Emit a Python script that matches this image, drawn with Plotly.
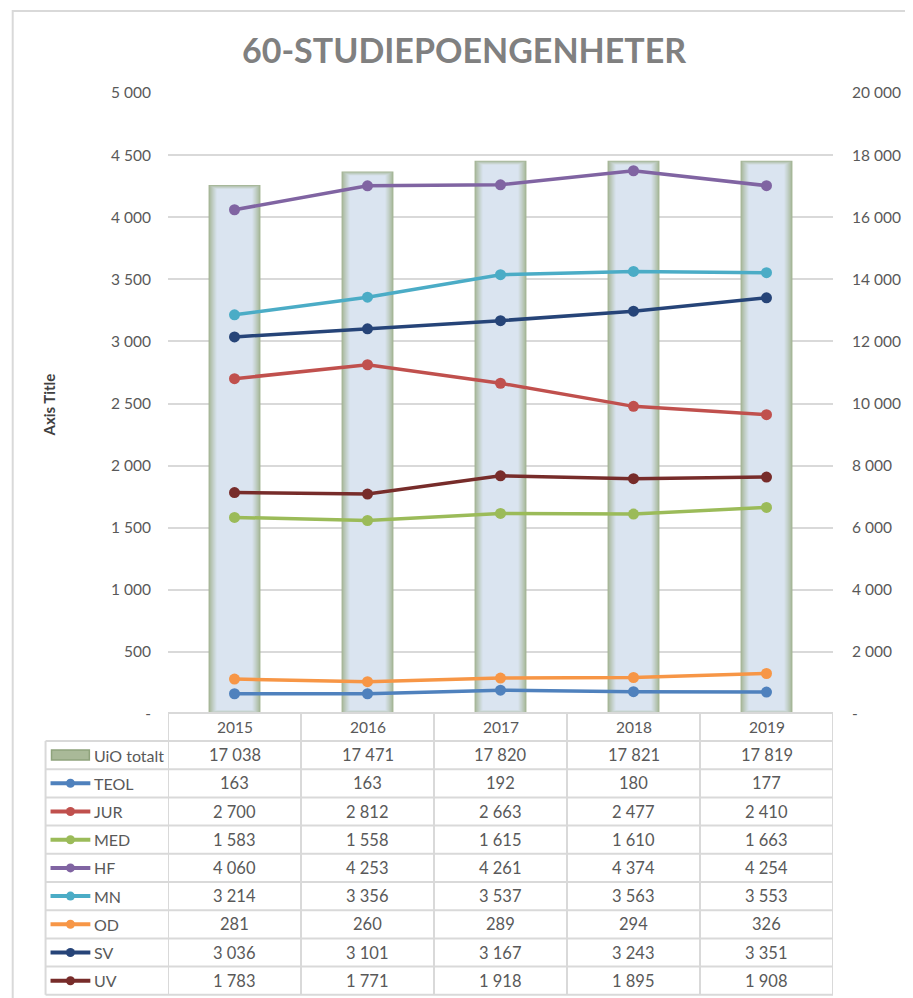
import plotly.graph_objects as go

# data
years = ["2015", "2016", "2017", "2018", "2019"]
uio_totalt = [17038, 17471, 17820, 17821, 17819]
teol = [163, 163, 192, 180, 177]
jur = [2700, 2812, 2663, 2477, 2410]
med = [1583, 1558, 1615, 1610, 1663]
hf = [4060, 4253, 4261, 4374, 4254]
mn = [3214, 3356, 3537, 3563, 3553]
od = [281, 260, 289, 294, 326]
sv = [3036, 3101, 3167, 3243, 3351]
uv = [1783, 1771, 1918, 1895, 1908]

left_ticks = [0, 500, 1000, 1500, 2000, 2500, 3000, 3500, 4000, 4500, 5000]
left_ticktext = ["-", "500", "1 000", "1 500", "2 000", "2 500", "3 000", "3 500", "4 000", "4 500", "5 000"]
right_ticks = [0, 2000, 4000, 6000, 8000, 10000, 12000, 14000, 16000, 18000, 20000]
right_ticktext = ["-", "2 000", "4 000", "6 000", "8 000", "10 000", "12 000", "14 000", "16 000", "18 000", "20 000"]

series = [
    ("TEOL", teol, "#4f81bd"),
    ("JUR", jur, "#c0504d"),
    ("MED", med, "#9bbb59"),
    ("HF", hf, "#8064a2"),
    ("MN", mn, "#4bacc6"),
    ("OD", od, "#f79646"),
    ("SV", sv, "#264478"),
    ("UV", uv, "#772c2a"),
]

W, H = 913, 998
OFF = 8                          # default body margin of the html page
L, R, T, B = 168, 836, 93, 714   # plot area in page pixels
FONT = "Lato"
GREY = "#595959"
LINE = "#d9d9d9"


def px(x):
    return (x - L) / (R - L)


def py(y):
    return (B - y) / (B - T)


def fmt(v):
    return f"{v:,}".replace(",", " ")


def mix(c1, c2, t):
    a = [int(c1[i:i + 2], 16) for i in (1, 3, 5)]
    b = [int(c2[i:i + 2], 16) for i in (1, 3, 5)]
    return "#" + "".join(f"{round(a[k] + (b[k] - a[k]) * t):02x}" for k in range(3))


fig = go.Figure()

# gradient bars (UiO totalt), built up from overlaid layers, on the right axis
bar_w = 0.39
step_x = 1 / 133.6
step_y = 20000 / (B - T)
n_layers = 9
edge, centre = "#a3b493", "#dae4f0"
for i in range(n_layers):
    t = (i / (n_layers - 1)) ** 0.85
    fig.add_trace(go.Bar(
        x=years,
        y=[v - 1.0 * i * step_y for v in uio_totalt],
        base=[0.5 * i * step_y] * len(years),
        width=bar_w - 2 * i * step_x,
        marker=dict(color=mix(edge, centre, t), line=dict(width=0)),
        yaxis="y", name="UiO totalt", showlegend=False,
        hoverinfo="skip" if i else None,
    ))

# lines on the left axis (overlay, so drawn above the bars)
for name, vals, col in series:
    fig.add_trace(go.Scatter(
        x=years, y=vals, name=name, mode="lines+markers",
        line=dict(color=col, width=3.5),
        marker=dict(color=col, size=11),
        yaxis="y2", showlegend=False,
    ))

shapes = []
annotations = []

# outer chart border
shapes.append(dict(type="rect", xref="paper", yref="paper",
                   x0=px(12), x1=px(W + 5), y0=py(11), y1=py(H + 5),
                   line=dict(color=LINE, width=2)))

# data table
row_top = 741
row_h = 28.2
rows = [("UiO totalt", uio_totalt, None)] + series
tab_bottom = row_top + row_h * len(rows)

shapes.append(dict(type="line", xref="paper", yref="paper",
                   x0=px(L), x1=px(R), y0=py(713), y1=py(713),
                   line=dict(color=LINE, width=2)))
for k in range(len(rows) + 1):
    yy = row_top + k * row_h
    shapes.append(dict(type="line", xref="paper", yref="paper",
                       x0=px(45), x1=px(R), y0=py(yy), y1=py(yy),
                       line=dict(color=LINE, width=2)))
shapes.append(dict(type="line", xref="paper", yref="paper",
                   x0=px(45), x1=px(45), y0=py(row_top), y1=py(tab_bottom),
                   line=dict(color=LINE, width=2)))
for xb in range(len(years) + 1):
    shapes.append(dict(type="line", xref="x", yref="paper",
                       x0=xb - 0.5, x1=xb - 0.5, y0=py(713), y1=py(tab_bottom),
                       line=dict(color=LINE, width=2)))

for i, yr in enumerate(years):
    annotations.append(dict(x=i, xref="x", y=py(727), yref="paper",
                            text=yr, showarrow=False, xanchor="center", yanchor="middle",
                            font=dict(family=FONT, size=15.5, color=GREY)))

for k, (name, vals, col) in enumerate(rows):
    yc = row_top + k * row_h + row_h / 2
    annotations.append(dict(x=px(92), xref="paper", y=py(yc), yref="paper",
                            text=name, showarrow=False, xanchor="left", yanchor="middle",
                            font=dict(family=FONT, size=16, color=GREY)))
    if col is None:
        shapes.append(dict(type="rect", xref="paper", yref="paper",
                           x0=px(51), x1=px(89), y0=py(yc - 5), y1=py(yc + 5),
                           fillcolor="#a9b998", line=dict(color="#8fa37c", width=1.5)))
    else:
        shapes.append(dict(type="line", xref="paper", yref="paper",
                           x0=px(50), x1=px(90), y0=py(yc), y1=py(yc),
                           line=dict(color=col, width=4)))
        shapes.append(dict(type="circle", xref="paper", yref="paper",
                           x0=px(65.5), x1=px(74.5), y0=py(yc - 4.5), y1=py(yc + 4.5),
                           fillcolor=col, line=dict(color=col, width=0)))
    for i, v in enumerate(vals):
        annotations.append(dict(x=i, xref="x", y=py(yc), yref="paper",
                                text=fmt(v), showarrow=False, xanchor="center", yanchor="middle",
                                font=dict(family=FONT, size=16.5, color=GREY)))

# title and axis title
annotations.append(dict(x=px(465), xref="paper", y=py(50), yref="paper",
                        text="<b>60-STUDIEPOENGENHETER</b>", showarrow=False,
                        xanchor="center", yanchor="middle",
                        font=dict(family=FONT, size=34, color="#808080")))
annotations.append(dict(x=px(48), xref="paper", y=py(405), yref="paper",
                        text="<b>Axis Title</b>", showarrow=False, textangle=-90,
                        xanchor="center", yanchor="middle",
                        font=dict(family=FONT, size=15, color="#404040")))

fig.update_layout(
    width=W - OFF, height=H - OFF,
    margin=dict(l=L - OFF, r=W - R, t=T - OFF, b=H - B, pad=0),
    paper_bgcolor="white", plot_bgcolor="white",
    barmode="overlay",
    showlegend=False,
    font=dict(family=FONT, size=15, color=GREY),
    xaxis=dict(type="category", categoryorder="array", categoryarray=years,
               range=[-0.5, 4.5], showticklabels=False, showgrid=False,
               zeroline=False, showline=False, ticks=""),
    yaxis=dict(range=[0, 20000], tickvals=right_ticks, ticktext=right_ticktext,
               side="right", showgrid=True, gridcolor=LINE, gridwidth=1.5,
               zeroline=False, showline=False, ticks="", ticklabelstandoff=18,
               tickfont=dict(family=FONT, size=15.5, color=GREY)),
    yaxis2=dict(range=[0, 5000], tickvals=left_ticks, ticktext=left_ticktext,
                overlaying="y", side="left", showgrid=False, zeroline=False,
                showline=False, ticks="", ticklabelstandoff=16,
                tickfont=dict(family=FONT, size=15.5, color=GREY)),
    shapes=shapes,
    annotations=annotations,
)

fig.write_html("out.html")
